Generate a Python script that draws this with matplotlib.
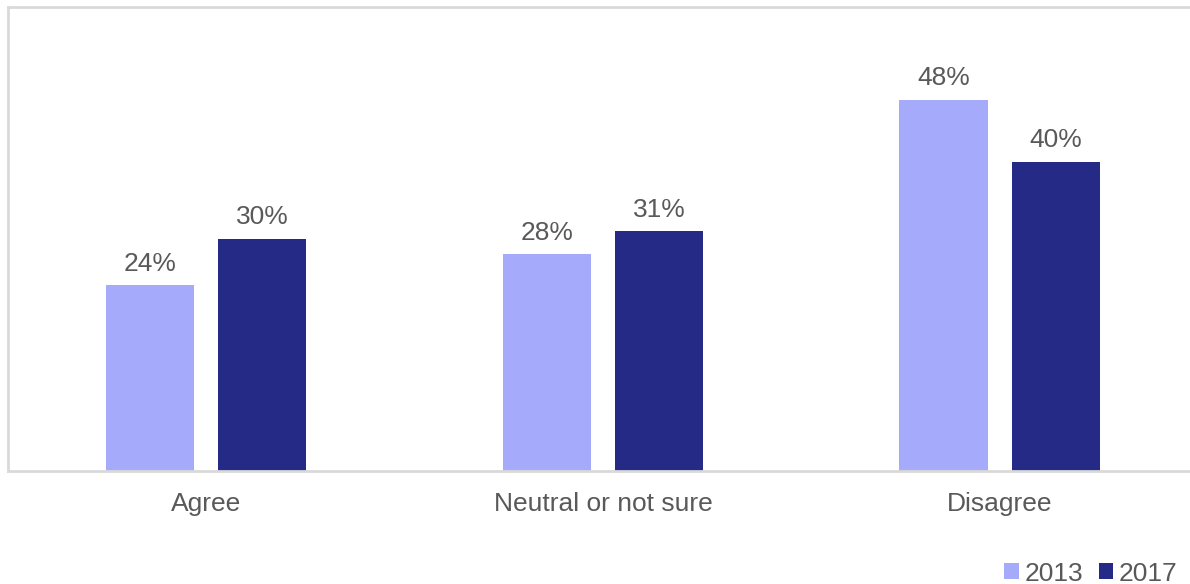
import numpy as np
import matplotlib.pyplot as plt
from matplotlib.patches import Patch

plt.rcParams['font.family'] = ['Liberation Sans', 'DejaVu Sans']

# data
categories = ['Agree', 'Neutral or not sure', 'Disagree']
years = ['2013', '2017']
values_2013 = [24, 28, 48]
values_2017 = [30, 31, 40]
colors = ['#A5AAFA', '#252A86']
text_color = '#595959'
grid_color = '#D9D9D9'

fig = plt.figure(figsize=(11.9, 5.84), dpi=100)
ax = fig.add_axes([8 / 1190, 113 / 584, 1182 / 1190, 464 / 584])

x = np.arange(len(categories))
w = 0.222
offset = 0.142
series = [values_2013, values_2017]
for i, vals in enumerate(series):
    pos = x + (i * 2 - 1) * offset
    bars = ax.bar(pos, vals, width=w, color=colors[i], zorder=2)
    for b, v in zip(bars, vals):
        ax.annotate(f'{v}%', (b.get_x() + b.get_width() / 2, v),
                    xytext=(0, 7), textcoords='offset points',
                    ha='center', va='bottom', fontsize=19, color=text_color)

ax.set_xlim(-0.499, 2.479)
ax.set_ylim(0, 60)
ax.set_xticks(x)
ax.set_xticklabels(categories, fontsize=19, color=text_color)
ax.tick_params(axis='x', length=0, pad=15)
ax.set_yticks([])

for s in ['top', 'left', 'bottom']:
    ax.spines[s].set_color(grid_color)
    ax.spines[s].set_linewidth(2)
ax.spines['right'].set_visible(False)

handles = [Patch(facecolor=c, edgecolor='none') for c in colors]
fig.legend(handles, years, loc='lower right', bbox_to_anchor=(1.0025, -0.03),
           ncol=2, frameon=False, fontsize=19, labelcolor=text_color,
           handlelength=0.55, handleheight=0.55, handletextpad=0.2,
           columnspacing=0.6, borderaxespad=0.2)

fig.savefig('out.png', dpi=100)
